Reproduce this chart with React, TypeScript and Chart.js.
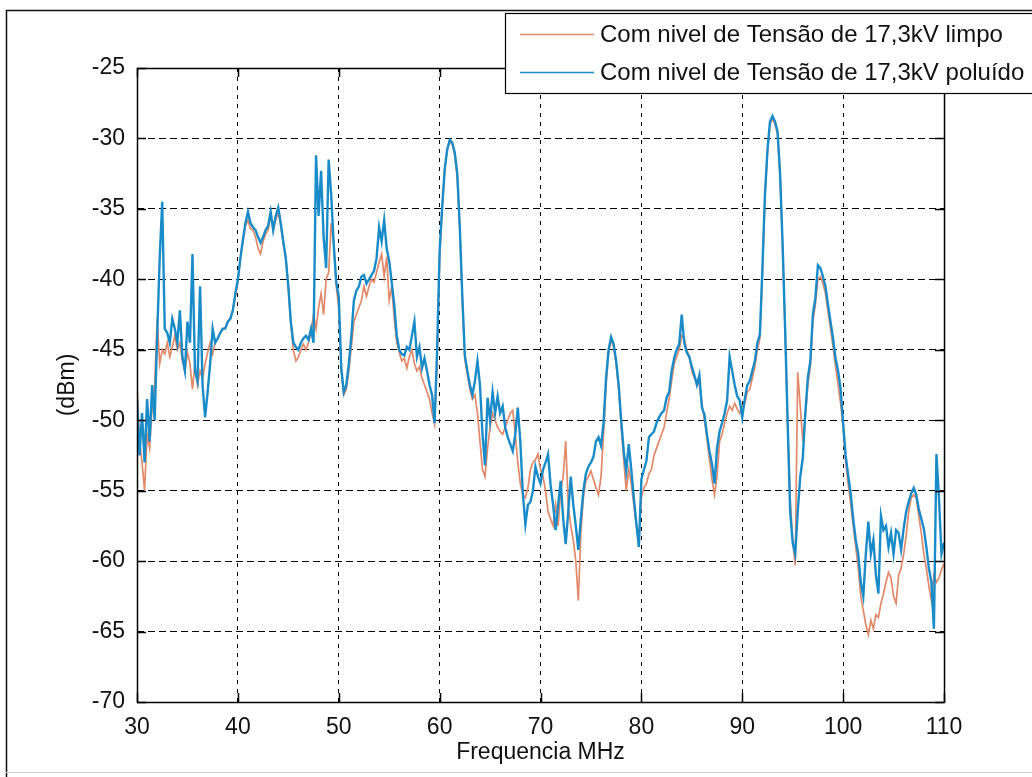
import React, { useEffect, useRef } from 'react';
import { Chart, registerables } from 'chart.js';

Chart.register(...registerables);

// Sampling grid of the spectrum (MHz)
const FREQ_START_MHZ = 30;
const FREQ_STEP_MHZ = 0.25;

const X_TICKS = [30, 40, 50, 60, 70, 80, 90, 100, 110];
const Y_TICKS = [-70, -65, -60, -55, -50, -45, -40, -35, -30, -25];

const SERIES_LABELS = [
  'Com nivel de Tensão de 17,3kV limpo',
  'Com nivel de Tensão de 17,3kV poluído',
];
const X_TITLE = 'Frequencia MHz';
const Y_TITLE = '(dBm)';

// dBm values, one row per MHz (f, f+0.25, f+0.5, f+0.75)
const dbmLimpo = [
  -47.5, -51.5, -53, -55, // 30
  -51, -52, -49, -47.5, // 31
  -42.8, -46, -45, -45.3, // 32
  -44.5, -45.5, -44.8, -44, // 33
  -45, -44.5, -45.8, -46.5, // 34
  -45.2, -46, -47.8, -46, // 35
  -47.5, -46.5, -47, -46, // 36
  -45.2, -44.5, -45.3, -44.5, // 37
  -44.2, -43.8, -43.6, -43.4, // 38
  -43, -42.8, -42.2, -41.2, // 39
  -40.2, -38.5, -37.3, -36.2, // 40
  -35.8, -36.4, -36.5, -37, // 41
  -37.8, -38.2, -37.3, -36.8, // 42
  -36.5, -35.5, -36.5, -35.8, // 43
  -35.2, -36.2, -37.5, -38.5, // 44
  -40.5, -43.2, -45, -45.8, // 45
  -45.5, -45, -44.6, -45, // 46
  -44.5, -43.8, -42.5, -43.5, // 47
  -42, -41, -42.5, -40, // 48
  -39.5, -36, -37.5, -40.5, // 49
  -42, -46.5, -48.2, -47.8, // 50
  -46.5, -44.8, -43, -42.5, // 51
  -42, -41.5, -40.5, -41.2, // 52
  -40.5, -40, -40.2, -39.5, // 53
  -38.8, -38.2, -39.8, -38.4, // 54
  -41.5, -40.5, -42.8, -44.5, // 55
  -45.2, -45.8, -45.6, -46.3, // 56
  -45.5, -45, -46, -46.5, // 57
  -46.2, -47, -47.5, -48, // 58
  -48.5, -49.5, -50.3, -46, // 59
  -38.5, -35, -32.3, -30.8, // 60
  -30.2, -30.4, -31.2, -32.8, // 61
  -36.5, -41.5, -45.7, -46.8, // 62
  -47.8, -48.5, -48.2, -49.5, // 63
  -51.5, -53.5, -54, -52, // 64
  -50.5, -49.5, -50, -50.5, // 65
  -50.8, -51, -50.5, -50, // 66
  -49.5, -49.3, -51, -53, // 67
  -54.5, -55.3, -55.5, -54.8, // 68
  -53.5, -53, -52.8, -52.4, // 69
  -53.5, -54, -55, -56.5, // 70
  -57, -57.5, -56, -57.5, // 71
  -55, -54, -51.5, -56, // 72
  -57.5, -58.5, -60, -62.8, // 73
  -58, -55.5, -54.3, -54, // 74
  -53.6, -54.2, -54.8, -55.3, // 75
  -54, -51, -47.5, -45.2, // 76
  -44.3, -44.8, -46, -47.8, // 77
  -50.5, -52.8, -55, -53.5, // 78
  -54.5, -56, -57.5, -58.5, // 79
  -55.5, -54.8, -54.5, -53.8, // 80
  -53.5, -52.5, -52, -51.5, // 81
  -51, -50.5, -49.5, -48.5, // 82
  -47.2, -46, -45.5, -45, // 83
  -44, -44.2, -45, -45.5, // 84
  -46.5, -47, -47.2, -47.5, // 85
  -48.8, -50, -51.3, -52.8, // 86
  -54.2, -55.3, -54, -51.5, // 87
  -51, -50.2, -49.5, -49, // 88
  -49.3, -48.8, -49.2, -49.5, // 89
  -49, -48.8, -48, -47.8, // 90
  -47, -46.2, -45, -44.2, // 91
  -39.5, -34.2, -31, -29, // 92
  -28.6, -29, -29.7, -32.7, // 93
  -37.7, -43.7, -50.3, -55.5, // 94
  -58.5, -60.3, -46.6, -49, // 95
  -51.5, -49.8, -47.5, -46.2, // 96
  -43, -41.8, -40, -39.8, // 97
  -40.3, -41, -42.3, -43.5, // 98
  -44.8, -46.2, -47.5, -48.8, // 99
  -50.5, -53, -54.5, -56, // 100
  -57.5, -59, -60.5, -62.5, // 101
  -63.5, -64.5, -65.2, -64.2, // 102
  -64.8, -63.8, -64, -63, // 103
  -62.3, -61.5, -60.8, -61.2, // 104
  -62.5, -63, -61, -60.5, // 105
  -59.5, -58.2, -56.5, -55.5, // 106
  -55.3, -55.5, -56.8, -58, // 107
  -59.5, -60.5, -61.8, -62.8, // 108
  -61, -61.5, -61.2, -60.6, // 109
  -60.2, // 110
];

const dbmPoluido = [
  -48.5, -52.5, -49.5, -53, // 30
  -48.5, -51.5, -47.5, -50, // 31
  -44, -38.5, -34.5, -43.5, // 32
  -43.8, -44.5, -42.8, -43.5, // 33
  -44.5, -42.2, -45.5, -46.5, // 34
  -43, -44.5, -38.2, -46.5, // 35
  -47.2, -40.5, -47.5, -49.8, // 36
  -48, -46, -43.5, -44.5, // 37
  -44.2, -43.8, -43.5, -43.5, // 38
  -43, -42.8, -42.2, -41, // 39
  -40, -38.5, -37.2, -36, // 40
  -35.2, -36, -36.3, -36.5, // 41
  -37, -37.4, -37, -36.5, // 42
  -36.2, -35.2, -36.5, -35.5, // 43
  -34.9, -36, -37.3, -38.5, // 44
  -40.5, -43, -44.5, -44.8, // 45
  -45, -44.5, -44.2, -44, // 46
  -44.3, -43.5, -44.5, -31.2, // 47
  -35.5, -32.3, -37, -39.2, // 48
  -31.5, -34, -37.5, -40.2, // 49
  -41.2, -46.3, -48, -47.5, // 50
  -46, -44, -41.5, -40.8, // 51
  -40.5, -39.8, -39.7, -40.3, // 52
  -40, -39.7, -39.4, -38.5, // 53
  -36.3, -37.3, -35.8, -37.8, // 54
  -38.7, -40.2, -41.8, -44, // 55
  -45, -45.3, -45.4, -44.8, // 56
  -45, -44, -43, -45.5, // 57
  -44.8, -46.3, -45.6, -46.5, // 58
  -47.5, -48.2, -50.2, -45, // 59
  -38, -34.9, -32.2, -30.8, // 60
  -30.1, -30.3, -31, -32.5, // 61
  -36.3, -41.2, -45.4, -46.5, // 62
  -47.5, -48.2, -47.2, -45.8, // 63
  -47.5, -51, -53.2, -48.4, // 64
  -50, -48, -49.5, -48.3, // 65
  -49.5, -49, -50.5, -51.2, // 66
  -51.7, -52.2, -51, -49.1, // 67
  -51.5, -55.2, -57.4, -56, // 68
  -55.8, -55, -53.3, -54, // 69
  -54.5, -53.5, -53, -52.4, // 70
  -54.6, -56, -57.8, -56, // 71
  -54.3, -57, -58.8, -56.5, // 72
  -54, -56, -57.5, -59.2, // 73
  -57, -55, -53.8, -53.3, // 74
  -53, -52.6, -51.5, -51.2, // 75
  -51.8, -50.2, -47, -45, // 76
  -44.1, -44.6, -45.8, -47.5, // 77
  -50, -52.2, -53.6, -51.7, // 78
  -53.5, -55.5, -57.3, -59, // 79
  -54.2, -53.5, -52.9, -51.2, // 80
  -51, -50.8, -50.2, -49.8, // 81
  -49.5, -49.3, -48.4, -48, // 82
  -46.5, -45.6, -45, -44.6, // 83
  -42.5, -44.5, -45.2, -45.5, // 84
  -46.2, -46.8, -47.5, -46.8, // 85
  -49.1, -49.6, -51, -52.2, // 86
  -53.1, -54.5, -52, -50.8, // 87
  -50.2, -49.5, -48.6, -45.5, // 88
  -46.5, -47.5, -48.3, -48.6, // 89
  -49.8, -48.5, -47.5, -47.2, // 90
  -46.5, -45.8, -44.5, -43.9, // 91
  -39.2, -34, -30.8, -28.8, // 92
  -28.4, -28.8, -29.5, -32.5, // 93
  -37.5, -43.5, -50.1, -56.5, // 94
  -58.7, -59.5, -56.5, -54, // 95
  -52.7, -49.5, -47, -45.8, // 96
  -42.5, -41.3, -39, -39.2, // 97
  -39.8, -40.5, -41.8, -43, // 98
  -44.2, -45.6, -46.5, -47.8, // 99
  -50.2, -52.5, -53.9, -55.2, // 100
  -57, -58.5, -59.5, -61.5, // 101
  -62.5, -59.5, -57.2, -59.5, // 102
  -58.5, -61, -62.3, -56.8, // 103
  -57.8, -57.5, -59, -58, // 104
  -59.5, -57.8, -58, -59.2, // 105
  -57.7, -56.5, -55.8, -55.2, // 106
  -54.8, -55.3, -56.3, -57, // 107
  -57.7, -59, -60.5, -61.5, // 108
  -64.8, -52.4, -55.5, -59.5, // 109
  -58.7, // 110
];

const COLOR_LIMPO = '#e2896a';
const COLOR_POLUIDO = '#1a8bc9';
const FONT_FAMILY = '"Liberation Sans", Arial, Helvetica, sans-serif';
const FONT_SIZE = 23;
const LEGEND_FONT_SIZE = 24;

const W = 1032;
const H = 777;

export default function App() {
  const canvasRef = useRef<HTMLCanvasElement | null>(null);

  useEffect(() => {
    const canvas = canvasRef.current;
    if (!canvas) return;

    const toPoints = (arr: number[]) =>
      arr.map((v, i) => ({ x: FREQ_START_MHZ + i * FREQ_STEP_MHZ, y: v }));

    const matlabPlugin = {
      id: 'matlabFrame',
      beforeDraw(chart: any) {
        const ctx = chart.ctx;
        ctx.save();
        ctx.fillStyle = '#ffffff';
        ctx.fillRect(0, 0, W, H);
        // outer figure frame
        ctx.strokeStyle = '#111';
        ctx.lineWidth = 1.5;
        ctx.beginPath();
        ctx.moveTo(W + 5, 10.5);
        ctx.lineTo(6.5, 10.5);
        ctx.lineTo(6.5, H + 5);
        ctx.stroke();
        ctx.strokeStyle = '#cfcfcf';
        ctx.lineWidth = 1;
        ctx.beginPath();
        ctx.moveTo(6, 772.5);
        ctx.lineTo(W, 772.5);
        ctx.stroke();
        ctx.restore();
      },
      afterDatasetsDraw(chart: any) {
        const ctx = chart.ctx;
        const { left, right, top, bottom } = chart.chartArea;
        const xs = chart.scales.x;
        const ys = chart.scales.y;
        ctx.save();
        ctx.strokeStyle = '#000';
        ctx.lineWidth = 1.5;
        ctx.strokeRect(Math.round(left) + 0.5, Math.round(top) + 0.5, Math.round(right - left), Math.round(bottom - top));
        const tl = 9;
        ctx.beginPath();
        X_TICKS.forEach((v) => {
          const px = Math.round(xs.getPixelForValue(v)) + 0.5;
          ctx.moveTo(px, bottom);
          ctx.lineTo(px, bottom - tl);
          ctx.moveTo(px, top);
          ctx.lineTo(px, top + tl);
        });
        Y_TICKS.forEach((v) => {
          const py = Math.round(ys.getPixelForValue(v)) + 0.5;
          ctx.moveTo(left, py);
          ctx.lineTo(left + tl, py);
          ctx.moveTo(right, py);
          ctx.lineTo(right - tl, py);
        });
        ctx.stroke();
        ctx.restore();
      },
      afterDraw(chart: any) {
        const ctx = chart.ctx;
        ctx.save();
        const lx = 505.5;
        const ly = 13.5;
        const lw = 600;
        const lh = 80;
        ctx.fillStyle = '#fff';
        ctx.fillRect(lx, ly, lw, lh);
        ctx.strokeStyle = '#000';
        ctx.lineWidth = 1.2;
        ctx.strokeRect(lx, ly, lw, lh);
        ctx.font = `${LEGEND_FONT_SIZE}px ${FONT_FAMILY}`;
        ctx.textBaseline = 'middle';
        ctx.textAlign = 'left';
        chart.data.datasets.forEach((ds: any, i: number) => {
          const y = 34.5 + i * 38;
          ctx.strokeStyle = ds.borderColor;
          ctx.lineWidth = 1.6;
          ctx.beginPath();
          ctx.moveTo(520, y);
          ctx.lineTo(594, y);
          ctx.stroke();
          ctx.fillStyle = '#111';
          ctx.fillText(ds.label, 600, y + 1);
        });
        ctx.restore();
      },
    };

    const chart = new Chart(canvas, {
      type: 'line',
      data: {
        datasets: [
          {
            label: SERIES_LABELS[0],
            data: toPoints(dbmLimpo),
            borderColor: COLOR_LIMPO,
            backgroundColor: COLOR_LIMPO,
            borderWidth: 1.7,
            pointRadius: 0,
            tension: 0,
            order: 2,
          },
          {
            label: SERIES_LABELS[1],
            data: toPoints(dbmPoluido),
            borderColor: COLOR_POLUIDO,
            backgroundColor: COLOR_POLUIDO,
            borderWidth: 2.4,
            pointRadius: 0,
            tension: 0,
            order: 1,
          },
        ],
      },
      options: {
        responsive: false,
        animation: false,
        devicePixelRatio: 1,
        layout: { padding: { left: 0, top: 68, right: 88, bottom: 0 } },
        plugins: {
          legend: { display: false },
          tooltip: { enabled: false },
        },
        scales: {
          x: {
            type: 'linear',
            min: 30,
            max: 110,
            afterBuildTicks: (s: any) => {
              s.ticks = X_TICKS.map((value) => ({ value }));
            },
            afterFit: (s: any) => {
              s.height = 75;
            },
            grid: { color: '#000', lineWidth: 1, drawTicks: false },
            border: { display: false, dash: [4, 5] },
            ticks: {
              color: '#111',
              padding: 12,
              maxRotation: 0,
              autoSkip: false,
              font: { family: FONT_FAMILY, size: FONT_SIZE },
            },
            title: {
              display: true,
              text: X_TITLE,
              color: '#111',
              font: { family: FONT_FAMILY, size: FONT_SIZE },
              padding: { top: 0, bottom: 11 },
            },
          },
          y: {
            type: 'linear',
            min: -70,
            max: -25,
            afterBuildTicks: (s: any) => {
              s.ticks = Y_TICKS.map((value) => ({ value }));
            },
            afterFit: (s: any) => {
              s.width = 137;
            },
            grid: { color: '#000', lineWidth: 1, drawTicks: false },
            border: { display: false, dash: [7, 4] },
            ticks: {
              color: '#111',
              padding: 12,
              autoSkip: false,
              font: { family: FONT_FAMILY, size: FONT_SIZE },
            },
            title: {
              display: true,
              text: Y_TITLE,
              color: '#111',
              font: { family: FONT_FAMILY, size: FONT_SIZE },
              padding: { top: 54, bottom: 0 },
            },
          },
        },
      },
      plugins: [matlabPlugin],
    });

    return () => {
      chart.destroy();
    };
  }, []);

  return (
    <div style={{ position: 'absolute', left: 0, top: 0, width: W, height: H, background: '#fff' }}>
      <canvas ref={canvasRef} width={W} height={H} style={{ display: 'block', width: W, height: H }} />
    </div>
  );
}
